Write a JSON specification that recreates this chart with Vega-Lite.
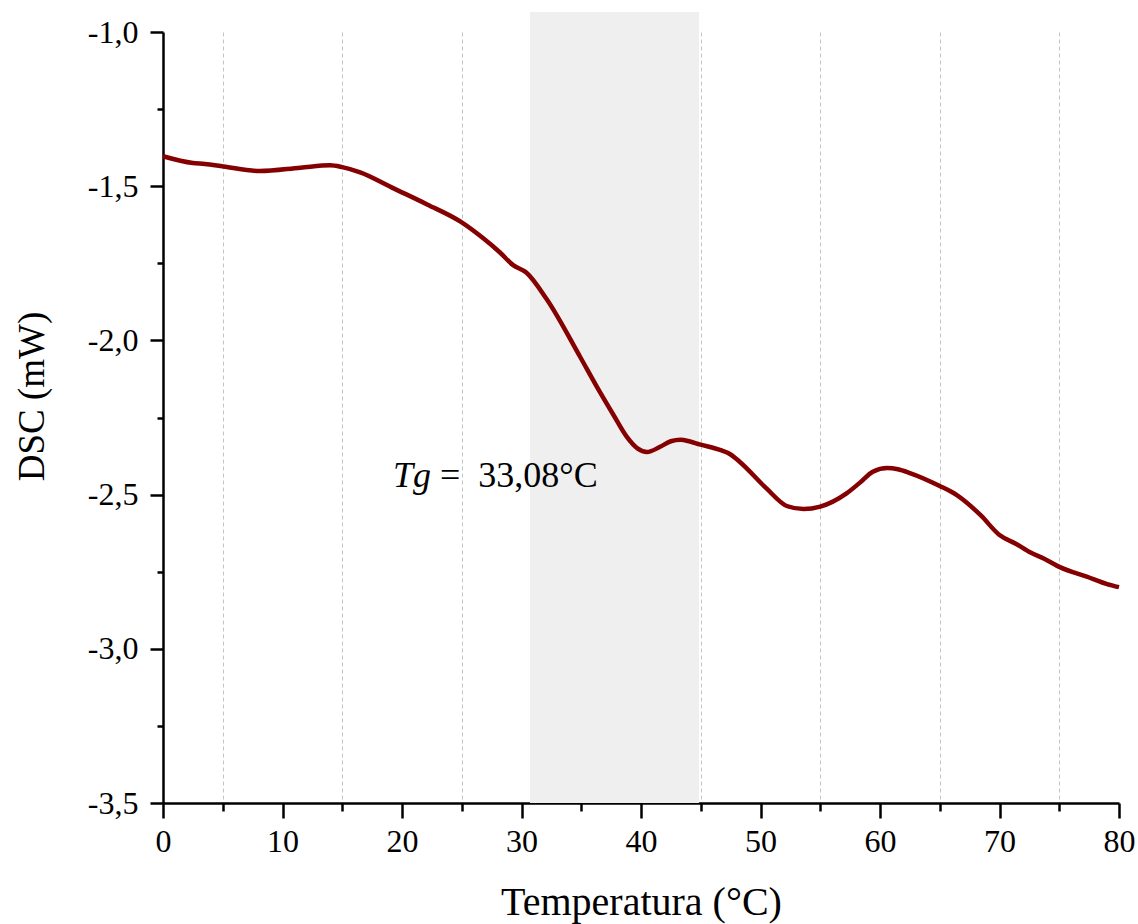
{
  "$schema": "https://vega.github.io/schema/vega-lite/v6.json",
  "width": 956,
  "height": 771,
  "autosize": {"type": "none"},
  "padding": {"left": 163, "top": 32, "right": 19, "bottom": 121},
  "background": "white",
  "config": {
    "view": {"stroke": null},
    "font": "Liberation Serif",
    "axis": {
      "labelFont": "Liberation Serif",
      "labelFontSize": 32,
      "labelColor": "black",
      "titleFont": "Liberation Serif",
      "titleFontWeight": "normal",
      "titleColor": "black",
      "domainColor": "black",
      "domainWidth": 2.5,
      "tickColor": "black",
      "tickWidth": 2.5
    },
    "text": {"font": "Liberation Serif", "fontSize": 36, "color": "black"}
  },
  "datasets": {
    "dsc": [
      {"t": 0, "v": -1.403},
      {"t": 2.5, "v": -1.425},
      {"t": 3.5, "v": -1.428},
      {"t": 5.05, "v": -1.436},
      {"t": 8.1, "v": -1.451},
      {"t": 11.5, "v": -1.44},
      {"t": 14.0, "v": -1.432},
      {"t": 15.0, "v": -1.438},
      {"t": 16.5, "v": -1.455},
      {"t": 19.3, "v": -1.507},
      {"t": 22.1, "v": -1.559},
      {"t": 24.9, "v": -1.615},
      {"t": 26.8, "v": -1.669},
      {"t": 28.2, "v": -1.715},
      {"t": 29.3, "v": -1.756},
      {"t": 30.4, "v": -1.78},
      {"t": 32.1, "v": -1.866},
      {"t": 34.9, "v": -2.053},
      {"t": 36.3, "v": -2.15},
      {"t": 37.7, "v": -2.242},
      {"t": 38.8, "v": -2.312},
      {"t": 39.7, "v": -2.35},
      {"t": 40.5, "v": -2.362},
      {"t": 41.6, "v": -2.345},
      {"t": 42.5, "v": -2.327},
      {"t": 43.3, "v": -2.322},
      {"t": 44.1, "v": -2.328},
      {"t": 44.9, "v": -2.337},
      {"t": 46.6, "v": -2.355},
      {"t": 47.5, "v": -2.37},
      {"t": 48.3, "v": -2.395},
      {"t": 50.5, "v": -2.48},
      {"t": 52.2, "v": -2.537},
      {"t": 53.6, "v": -2.547},
      {"t": 55.0, "v": -2.539},
      {"t": 57.2, "v": -2.496},
      {"t": 58.3, "v": -2.462},
      {"t": 59.4, "v": -2.426},
      {"t": 60.6, "v": -2.414},
      {"t": 61.5, "v": -2.418},
      {"t": 62.5, "v": -2.43},
      {"t": 65.0, "v": -2.472},
      {"t": 66.4, "v": -2.501},
      {"t": 68.4, "v": -2.566},
      {"t": 70.0, "v": -2.631},
      {"t": 71.4, "v": -2.66},
      {"t": 72.6, "v": -2.688},
      {"t": 73.7, "v": -2.707},
      {"t": 75.1, "v": -2.736},
      {"t": 77.3, "v": -2.766},
      {"t": 79.0, "v": -2.79},
      {"t": 80.0, "v": -2.8}
    ],
    "band": [{"start": 30.71, "end": 44.85}]
  },
  "layer": [
    {
      "data": {"name": "band"},
      "mark": {"type": "rect", "color": "#efefef", "clip": false},
      "encoding": {
        "x": {"field": "start", "type": "quantitative", "scale": {"domain": [0, 80], "nice": false, "zero": false},
          "axis": {
            "values": [0, 5, 10, 15, 20, 25, 30, 35, 40, 45, 50, 55, 60, 65, 70, 75, 80],
            "labelExpr": "datum.value % 10 === 0 ? '' + datum.value : ''",
            "labelPadding": 8,
            "labelFlush": false,
            "labelOverlap": false,
            "tickSize": {"condition": {"test": "datum.value % 10 === 0", "value": 15}, "value": 8},
            "grid": true,
            "gridColor": "#c4c4c4",
            "gridWidth": 1,
            "gridDash": [4, 3],
            "gridOpacity": {"condition": {"test": "datum.value % 10 === 5", "value": 1}, "value": 0},
            "title": "Temperatura (°C)",
            "titleFontSize": 40,
            "titleBaseline": "alphabetic",
            "titleY": 111
          }
        },
        "x2": {"field": "end"},
        "y": {"datum": -3.5, "type": "quantitative", "scale": {"domain": [-3.5, -1.0], "nice": false, "zero": false},
          "axis": {
            "values": [-3.5, -3.25, -3.0, -2.75, -2.5, -2.25, -2.0, -1.75, -1.5, -1.25, -1.0],
            "labelExpr": "(datum.value * 2) % 1 === 0 ? '-' + replace(format(abs(datum.value), '.1f'), '.', ',') : ''",
            "labelPadding": 12,
            "labelFlush": false,
            "labelOverlap": false,
            "tickSize": {"condition": {"test": "(datum.value * 2) % 1 === 0", "value": 13}, "value": 6},
            "grid": false,
            "title": "DSC (mW)",
            "titleFontSize": 37,
            "titleAngle": -90,
            "titleAlign": "center",
            "titleBaseline": "middle",
            "titleX": -131,
            "titleY": 364
          }
        },
        "y2": {"datum": -0.935}
      }
    },
    {
      "data": {"name": "dsc"},
      "mark": {"type": "line", "color": "#850000", "strokeWidth": 4.5, "interpolate": "monotone"},
      "encoding": {
        "x": {"field": "t", "type": "quantitative"},
        "y": {"field": "v", "type": "quantitative"}
      }
    },
    {
      "data": {"values": [{}]},
      "mark": {"type": "text", "text": "Tg", "font": "Liberation Serif", "fontStyle": "italic", "fontSize": 36, "align": "left", "baseline": "alphabetic", "color": "black"},
      "encoding": {
        "x": {"datum": 19.25, "type": "quantitative"},
        "y": {"datum": -2.4754, "type": "quantitative"}
      }
    },
    {
      "data": {"values": [{}]},
      "mark": {"type": "text", "text": "=\u00a0\u00a033,08°C", "font": "Liberation Serif", "fontSize": 36, "align": "left", "baseline": "alphabetic", "color": "black"},
      "encoding": {
        "x": {"datum": 23.18, "type": "quantitative"},
        "y": {"datum": -2.4754, "type": "quantitative"}
      }
    }
  ]
}
